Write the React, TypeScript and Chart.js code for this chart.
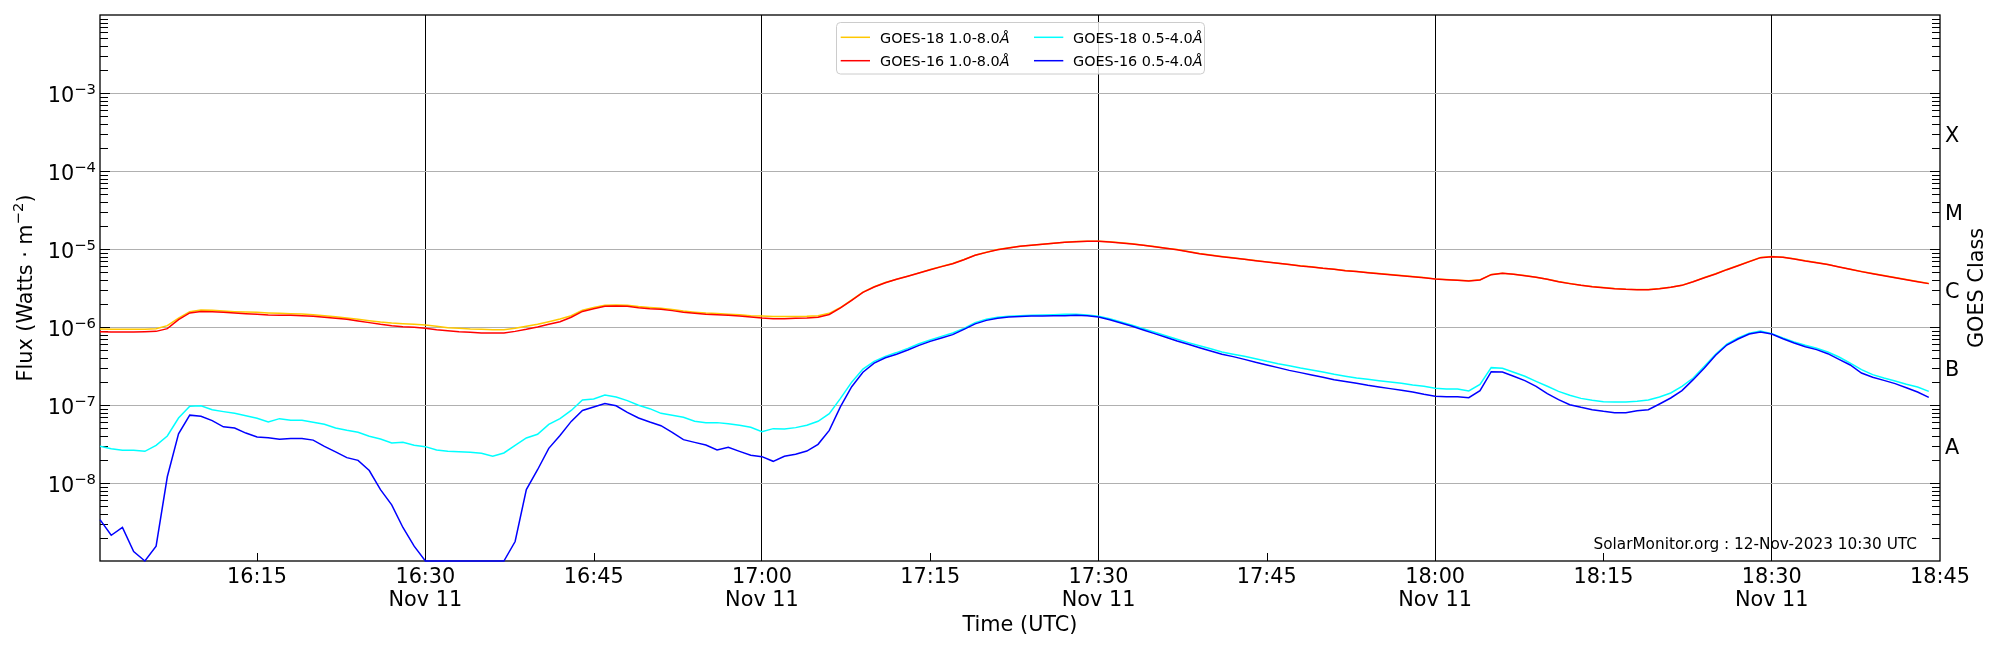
import { useEffect, useRef } from "react"
import { Chart, registerables } from "chart.js"

Chart.register(...registerables)

const FONT = '"DejaVu Sans", sans-serif'

// minutes after 16:00 UT, 11 Nov 2023 (1-minute GOES cadence)
const minutes = [
  1, 2, 3, 4, 5, 6, 7, 8, 9, 10, 11, 12, 13, 14, 15, 16, 17, 18, 19, 20,
  21, 22, 23, 24, 25, 26, 27, 28, 29, 30, 31, 32, 33, 34, 35, 36, 37, 38, 39, 40,
  41, 42, 43, 44, 45, 46, 47, 48, 49, 50, 51, 52, 53, 54, 55, 56, 57, 58, 59, 60,
  61, 62, 63, 64, 65, 66, 67, 68, 69, 70, 71, 72, 73, 74, 75, 76, 77, 78, 79, 80,
  81, 82, 83, 84, 85, 86, 87, 88, 89, 90, 91, 92, 93, 94, 95, 96, 97, 98, 99, 100,
  101, 102, 103, 104, 105, 106, 107, 108, 109, 110, 111, 112, 113, 114, 115, 116, 117, 118, 119, 120,
  121, 122, 123, 124, 125, 126, 127, 128, 129, 130, 131, 132, 133, 134, 135, 136, 137, 138, 139, 140,
  141, 142, 143, 144, 145, 146, 147, 148, 149, 150, 151, 152, 153, 154, 155, 156, 157, 158, 159, 160,
  161, 162, 163, 164,
]

// log10 of flux (W m^-2)
const goes18Long = [
  -6.026, -6.03, -6.03, -6.03, -6.03, -6.021, -5.983, -5.885, -5.803, -5.782,
  -5.786, -5.795, -5.803, -5.808, -5.812, -5.82, -5.825, -5.829, -5.833, -5.842,
  -5.855, -5.868, -5.885, -5.902, -5.919, -5.936, -5.949, -5.957, -5.966, -5.974,
  -5.991, -6.009, -6.017, -6.026, -6.03, -6.034, -6.034, -6.017, -5.991, -5.966,
  -5.932, -5.897, -5.855, -5.785, -5.75, -5.72, -5.717, -5.722, -5.738, -5.75,
  -5.76, -5.775, -5.795, -5.81, -5.822, -5.827, -5.835, -5.843, -5.855, -5.86,
  -5.866, -5.866, -5.866, -5.863, -5.855, -5.825, -5.75, -5.652, -5.552, -5.484,
  -5.43, -5.387, -5.348, -5.306, -5.263, -5.224, -5.186, -5.135, -5.079, -5.041,
  -5.007, -4.985, -4.964, -4.951, -4.938, -4.925, -4.913, -4.904, -4.9, -4.9,
  -4.908, -4.921, -4.934, -4.951, -4.968, -4.989, -5.007, -5.032, -5.058, -5.078,
  -5.096, -5.113, -5.13, -5.148, -5.165, -5.182, -5.198, -5.216, -5.229, -5.246,
  -5.259, -5.276, -5.288, -5.301, -5.314, -5.327, -5.34, -5.353, -5.366, -5.383,
  -5.391, -5.4, -5.408, -5.395, -5.327, -5.31, -5.323, -5.34, -5.361, -5.387,
  -5.417, -5.442, -5.464, -5.481, -5.494, -5.507, -5.515, -5.519, -5.519, -5.507,
  -5.489, -5.464, -5.418, -5.366, -5.318, -5.263, -5.212, -5.16, -5.109, -5.096,
  -5.105, -5.126, -5.152, -5.173, -5.198, -5.229, -5.259, -5.288, -5.314, -5.34,
  -5.366, -5.391, -5.417, -5.442,
]

const goes16Long = [
  -6.06, -6.064, -6.064, -6.064, -6.06, -6.056, -6.021, -5.906, -5.82, -5.8,
  -5.803, -5.812, -5.82, -5.829, -5.838, -5.846, -5.85, -5.85, -5.855, -5.863,
  -5.876, -5.889, -5.902, -5.923, -5.944, -5.966, -5.983, -5.996, -6.004, -6.017,
  -6.034, -6.047, -6.06, -6.068, -6.077, -6.077, -6.077, -6.056, -6.03, -6.0,
  -5.966, -5.932, -5.875, -5.8, -5.765, -5.735, -5.73, -5.735, -5.752, -5.765,
  -5.773, -5.79, -5.81, -5.825, -5.838, -5.842, -5.85, -5.859, -5.872, -5.885,
  -5.893, -5.893, -5.889, -5.885, -5.875, -5.84, -5.756, -5.658, -5.556, -5.487,
  -5.432, -5.389, -5.35, -5.308, -5.265, -5.226, -5.188, -5.137, -5.081, -5.043,
  -5.009, -4.987, -4.966, -4.953, -4.94, -4.927, -4.915, -4.906, -4.902, -4.902,
  -4.91, -4.923, -4.936, -4.953, -4.97, -4.991, -5.009, -5.034, -5.06, -5.08,
  -5.098, -5.115, -5.132, -5.15, -5.167, -5.184, -5.2, -5.218, -5.231, -5.248,
  -5.261, -5.278, -5.29, -5.303, -5.316, -5.329, -5.342, -5.355, -5.368, -5.385,
  -5.393, -5.402, -5.41, -5.397, -5.329, -5.312, -5.325, -5.342, -5.363, -5.389,
  -5.419, -5.444, -5.466, -5.483, -5.496, -5.509, -5.517, -5.521, -5.521, -5.509,
  -5.491, -5.466, -5.42, -5.368, -5.32, -5.265, -5.214, -5.162, -5.111, -5.098,
  -5.107, -5.128, -5.154, -5.175, -5.2, -5.231, -5.261, -5.29, -5.316, -5.342,
  -5.368, -5.393, -5.419, -5.444,
]

const goes18Short = [
  -7.53, -7.56, -7.58, -7.58, -7.594, -7.517, -7.397, -7.167, -7.017, -7.009,
  -7.06, -7.085, -7.107, -7.137, -7.17, -7.218, -7.175, -7.197, -7.197, -7.222,
  -7.248, -7.295, -7.325, -7.35, -7.4, -7.436, -7.487, -7.479, -7.517, -7.534,
  -7.577, -7.594, -7.598, -7.607, -7.62, -7.658, -7.615, -7.517, -7.423, -7.376,
  -7.248, -7.175, -7.07, -6.936, -6.923, -6.872, -6.897, -6.944, -7.004, -7.047,
  -7.107, -7.132, -7.158, -7.209, -7.226, -7.226, -7.239, -7.26, -7.286, -7.342,
  -7.303, -7.308, -7.29, -7.26, -7.209, -7.111, -6.915, -6.707, -6.54, -6.44,
  -6.376, -6.328, -6.274, -6.214, -6.167, -6.12, -6.077, -6.017, -5.944, -5.902,
  -5.876, -5.863, -5.855, -5.85, -5.846, -5.842, -5.838, -5.838, -5.846, -5.863,
  -5.895, -5.936, -5.977, -6.022, -6.068, -6.113, -6.158, -6.2, -6.24, -6.28,
  -6.32, -6.348, -6.376, -6.406, -6.44, -6.47, -6.496, -6.526, -6.551, -6.577,
  -6.607, -6.632, -6.654, -6.671, -6.688, -6.705, -6.722, -6.744, -6.76, -6.786,
  -6.795, -6.795, -6.82, -6.735, -6.521, -6.53, -6.581, -6.632, -6.697, -6.76,
  -6.825, -6.876, -6.915, -6.94, -6.957, -6.962, -6.962, -6.953, -6.936, -6.897,
  -6.846, -6.76, -6.654, -6.504, -6.35, -6.218, -6.141, -6.081, -6.051, -6.085,
  -6.141, -6.192, -6.235, -6.273, -6.32, -6.385, -6.462, -6.547, -6.611, -6.654,
  -6.692, -6.735, -6.77, -6.825,
]

const goes16Short = [
  -8.47, -8.67, -8.57, -8.88, -9.0, -8.81, -7.92, -7.37, -7.13, -7.145,
  -7.2, -7.28, -7.295, -7.36, -7.41, -7.42, -7.44, -7.43, -7.43, -7.45,
  -7.53, -7.6, -7.675, -7.71, -7.84, -8.085, -8.28, -8.57, -8.81, -9.0,
  -9.0, -9.0, -9.0, -9.0, -9.0, -9.0, -9.0, -8.75, -8.085, -7.83,
  -7.556, -7.39, -7.21, -7.07, -7.026, -6.98, -7.01, -7.094, -7.167, -7.218,
  -7.265, -7.35, -7.444, -7.479, -7.513, -7.577, -7.543, -7.594, -7.645, -7.662,
  -7.722, -7.658, -7.632, -7.59, -7.504, -7.325, -7.02, -6.765, -6.58, -6.463,
  -6.395, -6.35, -6.295, -6.235, -6.184, -6.141, -6.098, -6.03, -5.96, -5.915,
  -5.887, -5.872, -5.864, -5.86, -5.86, -5.857, -5.855, -5.85, -5.855, -5.872,
  -5.906, -5.949, -5.991, -6.038, -6.085, -6.132, -6.179, -6.222, -6.265, -6.308,
  -6.35, -6.38, -6.415, -6.453, -6.487, -6.521, -6.556, -6.585, -6.615, -6.645,
  -6.675, -6.7, -6.722, -6.748, -6.77, -6.79, -6.812, -6.833, -6.863, -6.889,
  -6.893, -6.893, -6.906, -6.816, -6.573, -6.577, -6.632, -6.688, -6.76, -6.855,
  -6.932, -6.996, -7.03, -7.06, -7.081, -7.098, -7.098, -7.073, -7.06, -6.987,
  -6.91, -6.816, -6.675, -6.526, -6.363, -6.231, -6.154, -6.09, -6.064, -6.09,
  -6.15, -6.205, -6.252, -6.29, -6.342, -6.415, -6.487, -6.59, -6.645, -6.684,
  -6.726, -6.778, -6.833, -6.902,
]

const seriesLabels = ["GOES-18 1.0-8.0", "GOES-16 1.0-8.0", "GOES-18 0.5-4.0", "GOES-16 0.5-4.0"]
const seriesColors = ["#ffc800", "#ff0000", "#00ffff", "#0000ff"]

const xTicks = [15, 30, 45, 60, 75, 90, 105, 120, 135, 150, 165]
const decades = [-8, -7, -6, -5, -4, -3]
const classLetters = ["A", "B", "C", "M", "X"]
const classLevels = [-7.5, -6.5, -5.5, -4.5, -3.5]
const dateLabel = "Nov 11"
const stamp = "SolarMonitor.org : 12-Nov-2023 10:30 UTC"

function hhmm(m: number) {
  const h = 16 + Math.floor(m / 60)
  return `${h}:${String(m % 60).padStart(2, "0")}`
}

const decor = {
  id: "goesDecor",
  beforeDatasetsDraw(chart: any) {
    const { ctx, chartArea: a, scales } = chart
    const y = scales.y
    const x = scales.x
    ctx.save()
    ctx.strokeStyle = "#000"
    ctx.lineWidth = 1
    ctx.beginPath()
    // inward log ticks on both sides
    for (let e = -9; e < -2; e++) {
      for (let m = 1; m <= 9; m++) {
        const v = m * Math.pow(10, e)
        if (v <= 1.0001e-9 || v >= 0.00999) continue
        const py = Math.round(y.getPixelForValue(v)) + 0.5
        const len = m === 1 ? 10 : 8
        ctx.moveTo(a.left, py)
        ctx.lineTo(a.left + len, py)
        ctx.moveTo(a.right, py)
        ctx.lineTo(a.right - len, py)
      }
    }
    for (const t of xTicks) {
      if (t % 30 === 0 || t >= 165) continue
      const px = Math.round(x.getPixelForValue(t)) + 0.5
      ctx.moveTo(px, a.bottom)
      ctx.lineTo(px, a.bottom - 8)
    }
    ctx.stroke()
    ctx.lineWidth = 1.3
    ctx.strokeRect(a.left, a.top, a.right - a.left, a.bottom - a.top)
    ctx.restore()
  },
  afterDraw(chart: any) {
    const { ctx, chartArea: a, scales } = chart
    const y = scales.y
    ctx.save()
    ctx.fillStyle = "#000"
    ctx.textBaseline = "alphabetic"
    ctx.textAlign = "left"

    // left tick labels 10^n
    for (const e of decades) {
      const py = y.getPixelForValue(Math.pow(10, e))
      const sup = "\u2212" + String(-e)
      ctx.font = `14.8px ${FONT}`
      const sw = ctx.measureText(sup).width
      ctx.font = `20.8px ${FONT}`
      const bw = ctx.measureText("10").width
      const x0 = 96 - sw - bw
      ctx.fillText("10", x0, py + 9)
      ctx.font = `14.8px ${FONT}`
      ctx.fillText(sup, x0 + bw, py + 0.5)
    }

    // y title with superscript
    ctx.save()
    ctx.translate(31.5, (a.top + a.bottom) / 2)
    ctx.rotate(-Math.PI / 2)
    const p1 = "Flux (Watts \u00b7 m"
    const p2 = "\u22122"
    const p3 = ")"
    ctx.font = `20.8px ${FONT}`
    const w1 = ctx.measureText(p1).width
    const w3 = ctx.measureText(p3).width
    ctx.font = `14.8px ${FONT}`
    const w2 = ctx.measureText(p2).width
    let tx = -(w1 + w2 + w3) / 2
    ctx.font = `20.8px ${FONT}`
    ctx.fillText(p1, tx, 0)
    tx += w1
    ctx.font = `14.8px ${FONT}`
    ctx.fillText(p2, tx, -8.5)
    tx += w2
    ctx.font = `20.8px ${FONT}`
    ctx.fillText(p3, tx, 0)
    ctx.restore()

    // GOES class letters on the right
    ctx.font = `20.8px ${FONT}`
    classLetters.forEach((c, i) => {
      const py = y.getPixelForValue(Math.pow(10, classLevels[i]))
      ctx.fillText(c, a.right + 5, py + 9.8)
    })
    ctx.save()
    ctx.translate(1983, (a.top + a.bottom) / 2)
    ctx.rotate(-Math.PI / 2)
    ctx.textAlign = "center"
    ctx.fillText("GOES Class", 0, 0)
    ctx.restore()

    // x title
    ctx.textAlign = "center"
    ctx.fillText("Time (UTC)", (a.left + a.right) / 2, 630.6)

    // watermark
    ctx.textAlign = "right"
    ctx.font = `15.3px ${FONT}`
    ctx.fillText(stamp, 1917, 549)

    // legend
    const bx = 836.5
    const by = 22.5
    const bw = 368
    const bh = 51.5
    ctx.beginPath()
    ctx.roundRect(bx, by, bw, bh, 4)
    ctx.fillStyle = "rgba(255,255,255,0.8)"
    ctx.fill()
    ctx.strokeStyle = "#cccccc"
    ctx.lineWidth = 1
    ctx.stroke()
    const cols = [
      { line: 840.7, text: 880 },
      { line: 1034, text: 1073 },
    ]
    const rows = [37.3, 60.7]
    ctx.textAlign = "left"
    seriesLabels.forEach((lab, i) => {
      const col = cols[Math.floor(i / 2)]
      const ry = rows[i % 2]
      ctx.strokeStyle = seriesColors[i]
      ctx.lineWidth = 1.5
      ctx.beginPath()
      ctx.moveTo(col.line, ry)
      ctx.lineTo(col.line + 29.3, ry)
      ctx.stroke()
      ctx.fillStyle = "#000"
      ctx.font = `14.4px ${FONT}`
      ctx.fillText(lab, col.text, ry + 5.2)
      const lw = ctx.measureText(lab).width
      ctx.font = `italic 14.4px ${FONT}`
      ctx.fillText("\u00c5", col.text + lw, ry + 5.2)
    })
    ctx.restore()
  },
}

export default function App() {
  const canvasRef = useRef<HTMLCanvasElement>(null)
  const chartRef = useRef<Chart | null>(null)

  useEffect(() => {
    if (!canvasRef.current) return
    if (chartRef.current) chartRef.current.destroy()

    const series = [
      { idx: 1, vals: goes16Long },
      { idx: 0, vals: goes18Long },
      { idx: 3, vals: goes16Short },
      { idx: 2, vals: goes18Short },
    ]

    chartRef.current = new Chart(canvasRef.current, {
      type: "line",
      data: {
        datasets: series.map((s) => ({
          label: seriesLabels[s.idx] + "\u00c5",
          data: minutes.map((m, i) => ({ x: m, y: Math.pow(10, s.vals[i]) })),
          borderColor: seriesColors[s.idx],
          backgroundColor: seriesColors[s.idx],
          borderWidth: 1.5,
          pointRadius: 0,
          tension: 0,
          fill: false,
          clip: false as any,
        })),
      },
      options: {
        animation: false,
        responsive: false,
        devicePixelRatio: 1,
        events: [],
        layout: { padding: { top: 15, right: 60, left: 0, bottom: 0 } },
        plugins: {
          legend: { display: false },
          tooltip: { enabled: false },
        },
        scales: {
          x: {
            type: "linear",
            min: 1,
            max: 165,
            afterBuildTicks: (s: any) => {
              s.ticks = xTicks.map((v) => ({ value: v }))
            },
            afterFit: (s: any) => {
              s.height = 89
            },
            border: { display: false },
            grid: {
              drawTicks: false,
              lineWidth: 1,
              color: (c: any) =>
                c.tick && c.tick.value % 30 === 0 && c.tick.value < 165 ? "#000000" : "rgba(0,0,0,0)",
            },
            ticks: {
              autoSkip: false,
              maxRotation: 0,
              padding: 4.5,
              color: "#000",
              font: { family: FONT, size: 20.8, lineHeight: 1.12 },
              callback: (v: any) => {
                const m = Number(v)
                return m % 30 === 0 ? [hhmm(m), dateLabel] : hhmm(m)
              },
            },
          },
          y: {
            type: "logarithmic",
            min: 1e-9,
            max: 1e-2,
            afterBuildTicks: (s: any) => {
              s.ticks = decades.map((e) => ({ value: Math.pow(10, e) }))
            },
            afterFit: (s: any) => {
              s.width = 100
            },
            border: { display: false },
            grid: { drawTicks: false, color: "#b0b0b0", lineWidth: 1 },
            ticks: { display: false },
          },
        },
      },
      plugins: [decor],
    })

    return () => {
      if (chartRef.current) {
        chartRef.current.destroy()
        chartRef.current = null
      }
    }
  }, [])

  return (
    <div style={{ position: "absolute", left: 0, top: 0, width: 2000, height: 650, background: "#fff" }}>
      <canvas ref={canvasRef} width={2000} height={650} style={{ display: "block", width: 2000, height: 650 }} />
    </div>
  )
}
